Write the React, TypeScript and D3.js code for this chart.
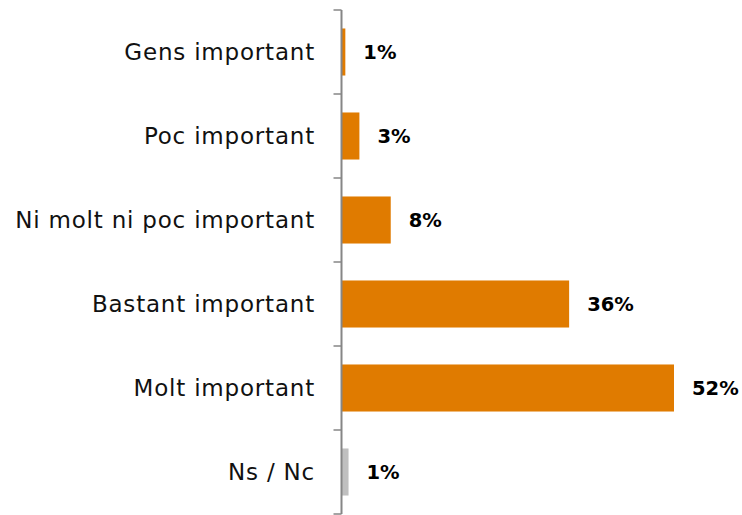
import React, { useRef, useEffect } from "react";
import * as d3 from "d3";

const categories = [
  "Gens important",
  "Poc important",
  "Ni molt ni poc important",
  "Bastant important",
  "Molt important",
  "Ns / Nc",
];
const values = [0.6, 2.8, 7.7, 35.6, 52.0, 1.1];
const labels = ["1%", "3%", "8%", "36%", "52%", "1%"];
const colors = ["#E07B00", "#E07B00", "#E07B00", "#E07B00", "#E07B00", "#BFBFBF"];

const App = () => {
  const svgRef = useRef<SVGSVGElement>(null);

  useEffect(() => {
    if (!svgRef.current) return;
    const svg = d3.select(svgRef.current);
    svg.selectAll("*").remove();

    const height = 515;
    const marginLeft = 341.5;
    const marginTop = 10;
    const marginBottom = 1;

    const x = d3.scaleLinear([0, 52], [marginLeft, 674]);
    const y = d3
      .scaleBand<string>()
      .domain(categories)
      .range([marginTop, height - marginBottom])
      .paddingInner(0.44)
      .paddingOuter(0.22);

    const font = "'DejaVu Sans', sans-serif";

    // band boundary ticks
    const bounds = d3
      .range(categories.length + 1)
      .map((i) => marginTop + i * ((height - marginBottom - marginTop) / categories.length));
    svg
      .append("g")
      .selectAll("line")
      .data(bounds)
      .join("line")
      .attr("x1", marginLeft - 8)
      .attr("x2", marginLeft)
      .attr("y1", (d) => d)
      .attr("y2", (d) => d)
      .attr("stroke", "#868686")
      .attr("stroke-width", 1.5);

    // bars
    svg
      .append("g")
      .selectAll("rect")
      .data(values)
      .join("rect")
      .attr("x", marginLeft)
      .attr("y", (_, i) => y(categories[i])!)
      .attr("width", (d) => x(d) - x(0))
      .attr("height", y.bandwidth())
      .attr("fill", (_, i) => colors[i]);

    // axis line
    svg
      .append("line")
      .attr("x1", marginLeft)
      .attr("x2", marginLeft)
      .attr("y1", bounds[0])
      .attr("y2", bounds[bounds.length - 1])
      .attr("stroke", "#868686")
      .attr("stroke-width", 2);

    // category labels
    svg
      .append("g")
      .selectAll("text")
      .data(categories)
      .join("text")
      .attr("x", 315)
      .attr("y", (d) => y(d)! + y.bandwidth() / 2)
      .attr("dy", "0.36em")
      .attr("text-anchor", "end")
      .attr("font-family", font)
      .attr("font-size", 23)
      .attr("letter-spacing", 0.8)
      .attr("fill", "#111")
      .text((d) => d);

    // value labels
    svg
      .append("g")
      .selectAll("text")
      .data(values)
      .join("text")
      .attr("x", (d) => x(d) + 18)
      .attr("y", (_, i) => y(categories[i])! + y.bandwidth() / 2)
      .attr("dy", "0.36em")
      .attr("font-family", font)
      .attr("font-size", 19.5)
      .attr("font-weight", "bold")
      .attr("fill", "#000")
      .text((_, i) => labels[i]);
  }, []);

  return (
    <svg
      ref={svgRef}
      width={742}
      height={515}
      style={{ position: "absolute", left: 0, top: 0, background: "#fff" }}
    ></svg>
  );
};

export default App;
